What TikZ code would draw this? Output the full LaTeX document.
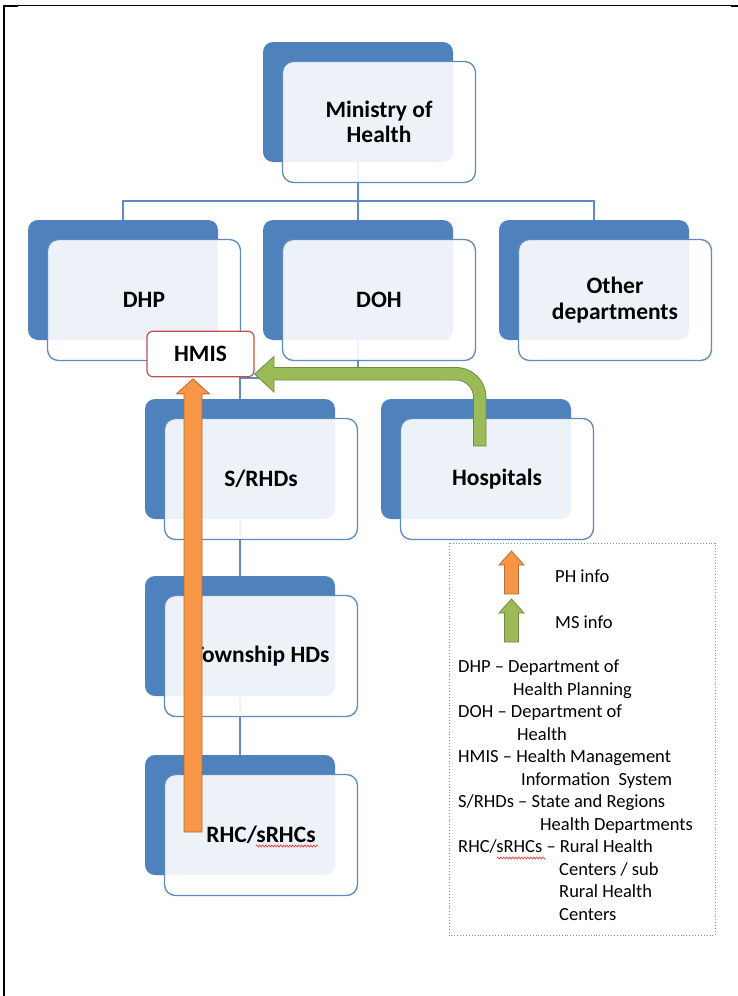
\documentclass[tikz,border=0pt]{standalone}
\usepackage{fontspec}
\setmainfont{Carlito}
\usetikzlibrary{calc,decorations.pathmorphing}

\definecolor{boxblue}{HTML}{4F81BD}
\definecolor{linkblue}{HTML}{5F8BC4}
\definecolor{frameblue}{HTML}{5E8AC3}
\definecolor{hmisred}{HTML}{C0504D}
\definecolor{phorange}{HTML}{F79646}
\definecolor{phedge}{HTML}{B66D31}
\definecolor{msgreen}{HTML}{9BBB59}
\definecolor{msedge}{HTML}{71893F}
\definecolor{squigred}{HTML}{F04040}
\definecolor{legframe}{HTML}{8C8C8C}

% upward block arrow: style, tip, foot, half shaft, half head, head length
\newcommand\blkarrowup[6]{%
  \draw[#1] ($(#3)+(-#4,0)$) -- ($(#2)+(-#4,#6)$) -- ($(#2)+(-#5,#6)$) -- (#2)
    -- ($(#2)+(#5,#6)$) -- ($(#2)+(#4,#6)$) -- ($(#3)+(#4,0)$) -- cycle;}

\begin{document}
\begin{tikzpicture}[x=1pt,y=-1pt,
  backbox/.style={fill=boxblue, rounded corners=10pt, minimum width=190pt,
    minimum height=120pt, inner sep=0pt},
  frontbox/.style={draw=frameblue, line width=1.3pt, fill=white, fill opacity=0.9,
    text opacity=1, rounded corners=11pt, minimum width=193pt, minimum height=121pt,
    inner sep=0pt, align=center, font=\fontsize{23.5}{25.5}\selectfont\bfseries},
  link/.style={draw=linkblue, line width=1.5pt},
  hmisbox/.style={draw=hmisred, line width=1.2pt, fill=white, rounded corners=6pt,
    minimum width=107pt, minimum height=45.5pt, inner sep=0pt,
    font=\fontsize{23.5}{25.5}\selectfont\bfseries},
  pharrow/.style={fill=phorange, draw=phedge, line width=0.8pt, line join=miter},
  msarrow/.style={fill=msgreen, draw=msedge, line width=0.8pt, line join=miter},
  squiggle/.style={draw=squigred, line width=0.6pt, decorate,
    decoration={zigzag, segment length=3pt, amplitude=1.1pt}},
  legtxt/.style={anchor=base west, inner sep=0pt, font=\fontsize{18.5}{22.5}\selectfont},
]
\useasboundingbox (0,0) rectangle (738,996);

% page frame
\fill[black] (3,4.5) rectangle (5,996);
\draw[black, line width=1pt] (4,5.5) -- (738,5.5);
\fill[black] (3,4.5) rectangle (18,6.5);
\fill[black] (731,4.5) rectangle (738,6.5);

% shaded back plates
\node[backbox] (mohB)   at (358,102) {};
\node[backbox] (dhpB)   at (123,280) {};
\node[backbox] (dohB)   at (358,280) {};
\node[backbox] (otherB) at (594,280) {};
\node[backbox] (srhdB)  at (240,459) {};
\node[backbox] (hospB)  at (476,459) {};
\node[backbox] (townB)  at (240,636) {};
\node[backbox] (rhcB)   at (240,815) {};

% hierarchy lines
\draw[link] (mohB.south) -- (dohB.north);
\draw[link] (dhpB.north) -- ++(0,-19) -| (otherB.north);
\coordinate (dohBus) at ($(dohB.south)+(0,38)$);
\draw[link] (dohB.south) -- (dohBus) -| (srhdB.north);
\draw[link] (dohBus) -| (hospB.north);
\draw[link] (srhdB.south) -- (townB.north);
\draw[link] (townB.south) -- (rhcB.north);

% labelled front cards
\node[frontbox] (moh)   at (379,122) {Ministry of\\Health};
\node[frontbox] (dhp)   at (144,300) {DHP};
\node[frontbox] (doh)   at (379,300) {DOH};
\node[frontbox] (other) at (615,300) {Other\\departments};
\node[frontbox] (srhd)  at (261,479) {S/RHDs};
\node[frontbox] (hosp)  at (497,479) {Hospitals};
\node[frontbox] (town)  at (261,656) {Township HDs};
\node[frontbox] (rhc)   at (261,835) {RHC/sRHCs};
\draw[squiggle] (256,846) -- (318,846);

% information system box
\node[hmisbox] (hmis) at (200.5,354) {HMIS};

% public-health information flow (orange)
\coordinate (phFoot) at (193,832);
\coordinate (phTip) at ($(hmis.south -| phFoot)+(0,1.5)$);
\blkarrowup{pharrow}{phTip}{phFoot}{9}{16.5}{15}

% medical-services information flow (green, bent)
\draw[msarrow]
  (473.5,446) -- (473.5,397.5) .. controls (473.5,387.8) and (465.7,380) .. (456,380)
  -- (274,380) -- (274,392) -- (hmis.east |- 0,374) -- (274,356.5) -- (274,367.5)
  -- (456,367.5) .. controls (472.6,367.5) and (486,380.9) .. (486,397.5)
  -- (486,446) -- cycle;

% legend
\draw[legframe, line width=0.9pt, dotted] (449,543) rectangle (715,935);
\coordinate (legPhTip) at (511.5,551);
\coordinate (legPhFoot) at (511.5,594);
\blkarrowup{pharrow}{legPhTip}{legPhFoot}{7}{12.5}{14}
\coordinate (legMsTip) at (511.5,599);
\coordinate (legMsFoot) at (511.5,642);
\blkarrowup{msarrow}{legMsTip}{legMsFoot}{7}{12.5}{14}
\node[legtxt] (legPh) at (555,582.7) {PH info};
\node[legtxt] (legMs) at (555,628.5) {MS info};

\node[legtxt] (leg1)  at (458,672.7) {DHP – Department of};
\node[legtxt] (leg2)  at (513,695.2) {Health Planning};
\node[legtxt] (leg3)  at (458,717.7) {DOH – Department of};
\node[legtxt] (leg4)  at (517,740.2) {Health};
\node[legtxt] (leg5)  at (458,762.7) {HMIS – Health Management};
\node[legtxt] (leg6)  at (521,785.2) {Information \ System};
\node[legtxt] (leg7)  at (458,807.7) {S/RHDs – State and Regions};
\node[legtxt] (leg8)  at (540,830.2) {Health Departments};
\node[legtxt] (leg9)  at (458,852.7) {RHC/sRHCs – Rural Health};
\node[legtxt] (leg10) at (559,875.2) {Centers / sub};
\node[legtxt] (leg11) at (559,897.7) {Rural Health};
\node[legtxt] (leg12) at (559,920.2) {Centers};
\draw[squiggle] (497,858) -- (545,858);
\end{tikzpicture}
\end{document}
